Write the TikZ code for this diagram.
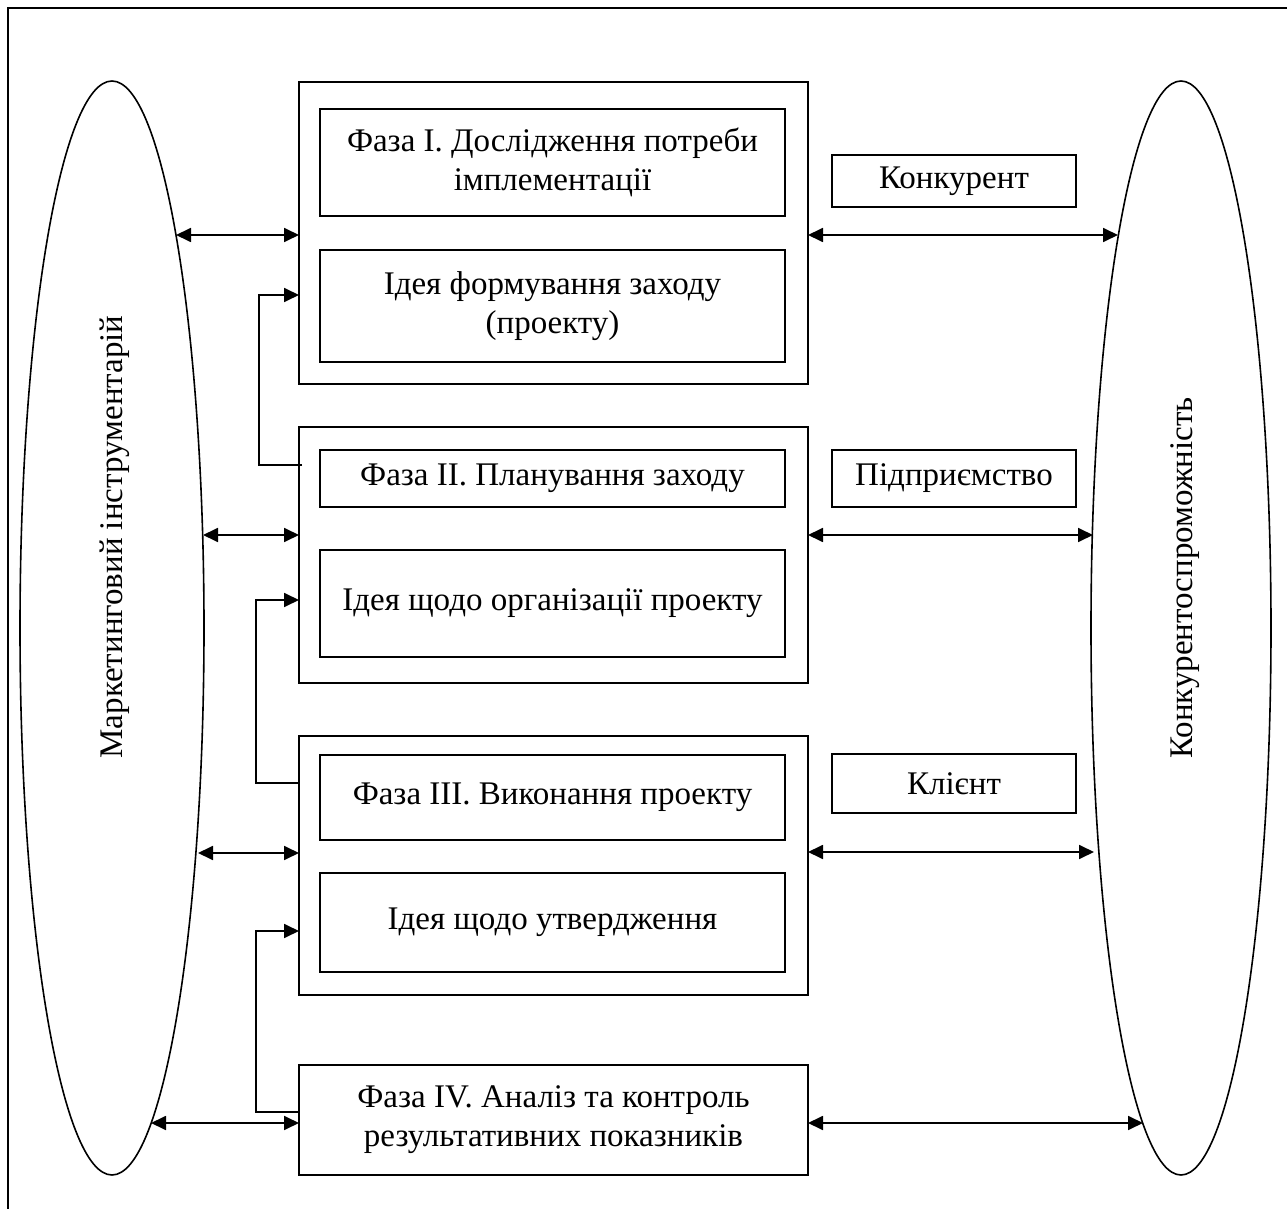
\documentclass[tikz,border=0pt]{standalone}
\usepackage{fontspec}
\setmainfont{Liberation Serif}
\usepackage{tikz}
\usetikzlibrary{shapes}
\usetikzlibrary{arrows.meta}

\tikzset{
  outerbox/.style={draw, line width=0.9pt, inner sep=0pt, outer sep=0pt, minimum width=254.5pt},
  innerbox/.style={draw, line width=0.8pt, inner sep=0pt, outer sep=0pt, minimum width=232.5pt, align=center},
  sidebox/.style={draw, line width=0.8pt, inner sep=0pt, outer sep=0pt, minimum width=122pt},
  oval/.style={draw, ellipse, line width=0.8pt, inner sep=0pt, outer sep=0pt},
  link/.style={line width=0.9pt}
}

\begin{document}
\begin{tikzpicture}[x=0.5pt, y=-0.5pt, >={Triangle[length=7.5pt,width=7pt]},
  font=\fontsize{16.5}{19.5}\selectfont]
\useasboundingbox (0,0) rectangle (1287,1209);
\draw[line width=1pt] (8,1209) -- (8,8) -- (1287,8);

% ellipses
\node[oval, minimum width=92pt, minimum height=547pt] (mi) at (112,628) {};
\node[oval, minimum width=90pt, minimum height=547pt] (ks) at (1181,628) {};
\node[rotate=90] (mitxt) at (115,537) {Маркетинговий інструментарій};
\node[rotate=90] (kstxt) at (1185,578) {Конкурентоспроможність};

% phases
\node[outerbox, minimum height=151pt] (ph1) at (553.5,233) {};
\node[innerbox, minimum height=53.5pt] (ph1a) at (552.5,162.5) {Фаза І. Дослідження потреби\\імплементації};
\node[innerbox, minimum height=56pt] (ph1b) at (552.5,306) {Ідея формування заходу\\(проекту)};

\node[outerbox, minimum height=128pt] (ph2) at (553.5,555) {};
\node[innerbox, minimum height=28.5pt] (ph2a) at (552.5,478.5) {Фаза ІІ. Планування заходу};
\node[innerbox, minimum height=53.5pt] (ph2b) at (552.5,603.5) {Ідея щодо організації проекту};

\node[outerbox, minimum height=129.5pt] (ph3) at (553.5,865.5) {};
\node[innerbox, minimum height=42.5pt] (ph3a) at (552.5,797.5) {Фаза ІІІ. Виконання проекту};
\node[innerbox, minimum height=49.5pt] (ph3b) at (552.5,922.5) {Ідея щодо утвердження};

\node[outerbox, minimum height=55pt, align=center] (ph4) at (553.5,1120) {Фаза IV. Аналіз та контроль\\результативних показників};

% side boxes
\node[sidebox, minimum height=26pt] (konk) at (954,181) {Конкурент};
\node[sidebox, minimum height=28.5pt] (pidp) at (954,478.5) {Підприємство};
\node[sidebox, minimum height=29.5pt] (klnt) at (954,783.5) {Клієнт};

% points on the ellipses
\coordinate (l1) at (176,235);
\coordinate (l2) at (203,535);
\coordinate (l3) at (198,853);
\coordinate (l4) at (151,1123);
\coordinate (r1) at (1118,235);
\coordinate (r2) at (1093,535);
\coordinate (r3) at (1094,852);
\coordinate (r4) at (1143,1123);

\draw[link, <->] (l1) -- (l1 -| ph1.west);
\draw[link, <->] (l2) -- (l2 -| ph2.west);
\draw[link, <->] (l3) -- (l3 -| ph3.west);
\draw[link, <->] (l4) -- (l4 -| ph4.west);
\draw[link, <->] (r1 -| ph1.east) -- (r1);
\draw[link, <->] (r2 -| ph2.east) -- (r2);
\draw[link, <->] (r3 -| ph3.east) -- (r3);
\draw[link, <->] (r4 -| ph4.east) -- (r4);

% feedback
\coordinate (k1) at (259,295);
\coordinate (k2) at (256,600);
\coordinate (k3) at (256,931);
\draw[link, ->] ([xshift=1.5pt, yshift=-7.5pt]ph2.north west |- ph2a.north) -| (k1) -- (k1 -| ph1.west);
\draw[link, ->] ([yshift=41.25pt]ph3.west) -| (k2) -- (k2 -| ph2.west);
\draw[link, ->] ([yshift=4pt]ph4.west) -| (k3) -- (k3 -| ph3.west);
\end{tikzpicture}
\end{document}
